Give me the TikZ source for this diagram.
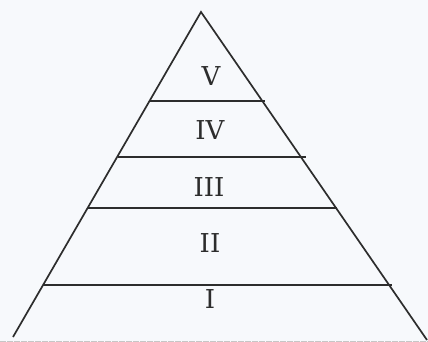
\documentclass[tikz,border=0pt]{standalone}
\usepackage{fontspec}
\newfontfamily\numfont{DejaVu Serif}
\definecolor{inkgray}{RGB}{45,45,45}
\definecolor{papertint}{RGB}{247,249,252}
\tikzset{
  side/.style={inkgray, line width=1.7pt},
  level/.style={inkgray, line width=1.6pt},
  numeral/.style={inkgray, font=\numfont\fontsize{26}{26}\selectfont}
}
\begin{document}
\begin{tikzpicture}[x=1pt,y=-1pt]
\fill[papertint] (0,0) rectangle (428,342);
\useasboundingbox (0,0) rectangle (428,342);
% corners of the pyramid
\coordinate (apex) at (201,12);
\coordinate (bl) at (13,337);
\coordinate (br) at (427,340);
\draw[side] (bl) -- (apex) -- (br);
% faint base along the bottom edge
\draw[gray!45, line width=0.8pt, dashed, dash pattern=on 6pt off 1pt] (0,341) -- (428,341);
% dividing lines between the levels
\coordinate (l1a) at (150,101);  \coordinate (l1b) at (265,101);
\coordinate (l2a) at (118,157);  \coordinate (l2b) at (306,157);
\coordinate (l3a) at (87,208);   \coordinate (l3b) at (337,208);
\coordinate (l4a) at (43,285);   \coordinate (l4b) at (392,285);
\draw[level] (l1a) -- (l1b);
\draw[level] (l2a) -- (l2b);
\draw[level] (l3a) -- (l3b);
\draw[level] (l4a) -- (l4b);
% level numerals
\node[numeral] (five)  at (211,76)  {V};
\node[numeral] (four)  at (210,130) {IV};
\node[numeral] (three) at (209,187) {III};
\node[numeral] (two)   at (210,243) {II};
\node[numeral] (one)   at (210,299) {I};
\end{tikzpicture}
\end{document}
